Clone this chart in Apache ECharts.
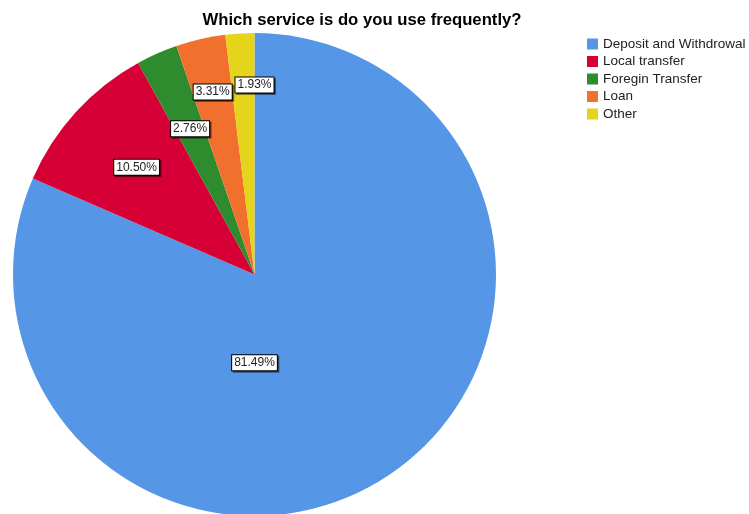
<!DOCTYPE html>
<html>
<head>
<meta charset="utf-8">
<script src="https://cdn.jsdelivr.net/npm/echarts@6/dist/echarts.min.js"></script>
<style>
  html, body { margin: 0; padding: 0; background: #fff; }
  #chart { width: 749px; height: 514px; }
</style>
</head>
<body>
<div id="chart"></div>
<script>
// Share of respondents by service used most often
const categories = ['Deposit and Withdrowal', 'Local transfer', 'Foregin Transfer', 'Loan', 'Other'];
const shares = [81.49, 10.50, 2.76, 3.31, 1.93];
const colors = ['#5596E6', '#D70036', '#2E8B2E', '#F2702E', '#E4D51B'];

// Where each percentage box sits: fraction of the radius, and an optional fixed angle (degrees)
const labelPlacement = [
  { r: 0.365, angle: -90 },
  { r: 0.66 },
  { r: 0.66 },
  { r: 0.775 },
  { r: 0.785, angle: 90 }
];

const CX = 254.5, CY = 274.5, R = 241.5;
const FONT = '"Liberation Sans", Arial, sans-serif';
const total = shares.reduce((a, b) => a + b, 0);

// mid angle of every slice, clockwise from 12 o'clock
const midAngles = [];
let acc = 0;
shares.forEach(v => {
  const span = v / total * 360;
  midAngles.push(90 - acc - span / 2);
  acc += span;
});

const chart = echarts.init(document.getElementById('chart'));
chart.setOption({
  animation: false,
  title: {
    text: 'Which service is do you use frequently?',
    left: 357,
    textAlign: 'center',
    top: 7,
    textStyle: { fontFamily: FONT, fontSize: 16.7, fontWeight: 'bold', color: '#000' }
  },
  legend: {
    orient: 'vertical',
    left: 582,
    top: 32,
    itemWidth: 11,
    itemHeight: 11,
    itemGap: 3.5,
    icon: 'rect',
    data: categories,
    textStyle: { fontFamily: FONT, fontSize: 13.5, color: '#222' }
  },
  series: [{
    type: 'pie',
    center: [CX, CY],
    radius: R,
    startAngle: 90,
    clockwise: true,
    avoidLabelOverlap: false,
    silent: true,
    itemStyle: { borderWidth: 0 },
    label: {
      show: true,
      position: 'inside',
      formatter: p => p.value.toFixed(2) + '%',
      fontFamily: FONT,
      fontSize: 12,
      color: '#222',
      backgroundColor: '#fff',
      borderColor: '#000',
      borderWidth: 1,
      padding: [2, 2, 1, 2],
      shadowColor: 'rgba(0,0,0,0.45)',
      shadowOffsetX: 1.5,
      shadowOffsetY: 1.5,
      shadowBlur: 0
    },
    labelLine: { show: false },
    labelLayout: p => {
      const place = labelPlacement[p.dataIndex];
      const a = (place.angle !== undefined ? place.angle : midAngles[p.dataIndex]) * Math.PI / 180;
      return {
        x: CX + R * place.r * Math.cos(a),
        y: CY - R * place.r * Math.sin(a),
        align: 'center',
        verticalAlign: 'middle'
      };
    },
    data: categories.map((name, i) => ({
      name: name,
      value: shares[i],
      itemStyle: { color: colors[i] }
    }))
  }]
});
</script>
</body>
</html>
